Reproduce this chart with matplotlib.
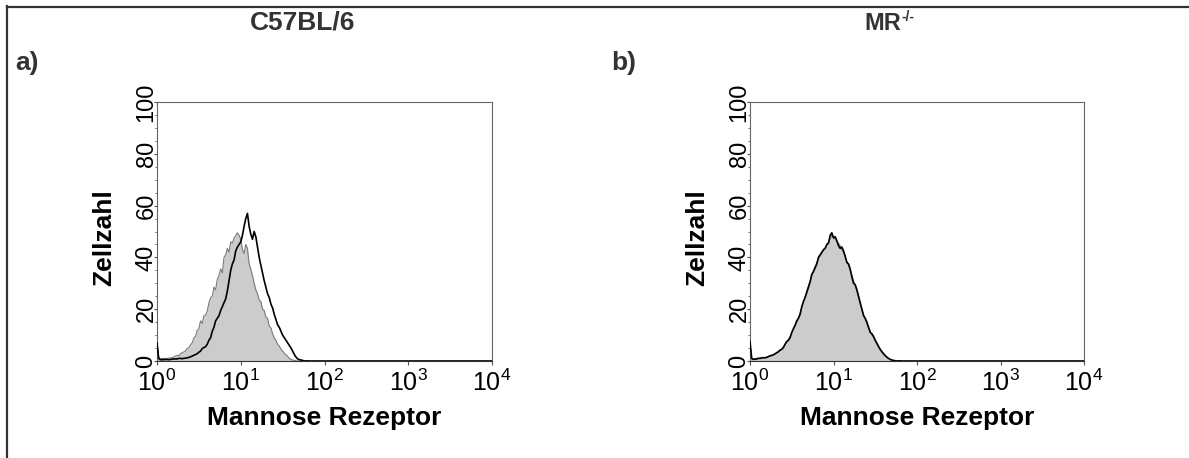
import numpy as np
import matplotlib
matplotlib.use("Agg")
import matplotlib.pyplot as plt
from matplotlib.ticker import MultipleLocator, LogLocator, NullFormatter
from matplotlib.lines import Line2D

plt.rcParams['font.family'] = ['Liberation Sans', 'DejaVu Sans']
plt.rcParams['mathtext.fontset'] = 'custom'
plt.rcParams['mathtext.rm'] = 'Liberation Sans'
plt.rcParams['mathtext.bf'] = 'Liberation Sans:bold'
plt.rcParams['mathtext.it'] = 'Liberation Sans:italic'

# ---- data ----
titles = ["C57BL/6", "MR"]
title_sups = ["", "-/-"]
panel_labels = ["a)", "b)"]
x_label = "Mannose Rezeptor"
y_label = "Zellzahl"
x_ticks = [1, 10, 100, 1000, 10000]
y_ticks = [0, 20, 40, 60, 80, 100]

# channel grid of the cytometer, in log10 fluorescence (0 .. 1.8, 91 channels)
log_channels = np.linspace(0, 1.8, 91)

gray_a = [7, 1.5, 0.8, 1.0, 1.0, 0.9, 1.0, 1.1, 1.2, 1.3,
          1.5, 1.9, 2.2, 2.0, 2.8, 3.2, 3.5, 3.9, 4.8, 5.1,
          6.2, 7.0, 9.0, 9.5, 11.8, 12.5, 15.5, 14.5, 17.5, 17.8,
          19.2, 22.5, 24.5, 25, 28.5, 27.5, 31.5, 33, 35.5, 34,
          40, 41, 43.5, 42, 46, 45.5, 47.5, 48.5, 49.5, 48.5,
          47, 43, 41.5, 45, 43.5, 37.5, 35.5, 33, 30, 27.5,
          26, 23.5, 23, 20, 19.5, 17, 16.5, 13.5, 12.8, 10.5,
          9, 8, 6.5, 5.8, 4.6, 3.8, 3.0, 2.4, 1.8, 1.0,
          0.6, 0.4, 0.2, 0.1, 0, 0, 0, 0, 0, 0, 0]
black_a = [7, 1.0, 0.5, 0.5, 0.5, 0.6, 0.6, 0.5, 0.6, 0.7,
           0.8, 0.8, 0.8, 1.0, 1.0, 0.9, 1.0, 1.1, 1.2, 1.4,
           1.6, 1.9, 2.2, 2.5, 2.8, 3.4, 3.8, 4.8, 5.2, 5.5,
           6.5, 8.0, 9.0, 11.5, 13, 15.5, 16.5, 17.5, 19.5, 21,
           22.5, 24, 27, 31, 35, 37.5, 39, 42.5, 44, 45,
           46, 48.5, 52, 55, 57, 52, 49, 47, 50, 48,
           44, 40, 37, 34, 31, 28.5, 26, 24.5, 22, 20.5,
           18, 16, 14, 13, 11.5, 10, 9, 8, 7, 6,
           5, 3.8, 2.5, 1.5, 0.8, 0.5, 0.4, 0.2, 0, 0, 0]
gray_b = [7, 1.2, 0.8, 0.9, 1.0, 1.1, 1.2, 1.1, 1.2, 1.4,
          1.5, 1.6, 1.8, 2.0, 2.2, 2.6, 3.0, 3.4, 4.0, 4.6,
          5.5, 6.2, 7.2, 8.4, 9.5, 10.8, 12, 13.5, 15, 16.8,
          18.5, 20.5, 22.5, 25, 27, 29, 31, 33, 35, 36.5,
          38, 39.5, 40.5, 41.5, 42.5, 43.5, 44.5, 46, 47, 48.5,
          48, 47, 46, 45.5, 44.5, 43, 42, 40, 38.5, 37,
          35, 33, 31, 29, 27, 24.5, 22, 20, 18, 16,
          14.5, 13, 11.5, 10, 9, 7.8, 6.5, 5.3, 4.2, 3.3,
          2.5, 1.9, 1.3, 0.9, 0.5, 0.3, 0.1, 0, 0, 0, 0]
black_b = [7.5, 1.0, 0.6, 0.7, 0.8, 1.0, 1.0, 1.2, 1.3, 1.2,
           1.4, 1.7, 2.0, 2.2, 2.4, 2.8, 3.2, 3.6, 4.2, 4.5,
           5.2, 6.5, 7.5, 8.0, 9.0, 11.0, 12.5, 13.8, 15.5, 16.5,
           18, 21, 23, 24.5, 26.5, 28.5, 30.5, 33.5, 34.5, 36,
           37.5, 40, 41, 42, 43, 43.5, 45, 45.5, 48.5, 49.5,
           47.5, 48, 46.5, 44.5, 43.5, 44, 42.5, 40.5, 38, 37.5,
           35.5, 32.5, 30, 29.5, 27.5, 25, 22.5, 20, 17.5, 16.5,
           15, 13, 11, 10.5, 9.5, 8, 6.8, 5.6, 4.5, 3.6,
           2.8, 2.1, 1.5, 1.0, 0.6, 0.4, 0.2, 0.1, 0, 0, 0]

W, H = 1189, 458
fig = plt.figure(figsize=(W / 100, H / 100), dpi=100)

# outer frame lines (left and top)
fig.add_artist(Line2D([7 / W, 7 / W], [0, 1 - 6 / H], transform=fig.transFigure,
                      color='#333333', lw=1.6))
fig.add_artist(Line2D([7 / W, 1], [1 - 7 / H, 1 - 7 / H], transform=fig.transFigure,
                      color='#333333', lw=1.6))

panels = [(157, 492, gray_a, black_a, 303, 15),
          (750, 1084, gray_b, black_b, 896, 611)]
ax_top, ax_bot = 102, 361

x = 10 ** log_channels
for i, (l, r, g, b, tx, px) in enumerate(panels):
    ax = fig.add_axes([l / W, 1 - ax_bot / H, (r - l) / W, (ax_bot - ax_top) / H])
    ax.set_xscale('log')
    ax.set_xlim(1, 10000)
    ax.set_ylim(0, 100)
    ax.fill_between(x, g, 0, color='#cccccc', lw=0, zorder=1)
    ax.plot(x, g, color='#7a7a7a', lw=0.8, zorder=2)
    ax.plot(x, b, color='black', lw=1.2, zorder=3)
    ax.plot([x[-1], 10000], [0, 0], color='black', lw=1.2, zorder=3)

    for s in ax.spines.values():
        s.set_color('#666666')
        s.set_linewidth(0.8)
    ax.spines['bottom'].set_color('#333333')

    ax.set_xticks(x_ticks)
    ax.xaxis.set_minor_locator(LogLocator(base=10, subs=np.arange(2, 10)))
    ax.xaxis.set_minor_formatter(NullFormatter())
    ax.set_yticks(y_ticks)
    ax.yaxis.set_minor_locator(MultipleLocator(5))
    ax.tick_params(axis='x', which='major', length=3, width=0.8, color='#555555',
                   labelsize=18, pad=3, direction='out')
    ax.tick_params(axis='x', which='minor', length=1.5, width=0.6, color='#555555')
    ax.tick_params(axis='y', which='major', length=2.5, width=0.8, color='#555555',
                   labelsize=17, pad=5, direction='out')
    ax.tick_params(axis='y', which='minor', length=1.5, width=0.6, color='#555555')
    for lab in ax.get_yticklabels():
        lab.set_rotation(90)
        lab.set_va('center')
        lab.set_ha('center')
        lab.set_fontsize(17)

    cx = (l + r) / 2
    fig.text(cx / W, 1 - 418 / H, x_label, ha='center', va='center',
             fontsize=19, fontweight='bold')
    fig.text((l - 53) / W, 1 - 238 / H, y_label, ha='center', va='center',
             rotation=90, fontsize=19, fontweight='bold')
    if title_sups[i]:
        fig.text((tx + 5) / W, 1 - 23 / H, titles[i], ha='right', va='center',
                 fontsize=17, fontweight='bold', color='#333333')
        fig.text((tx + 5) / W, 1 - 17 / H, title_sups[i], ha='left', va='center',
                 fontsize=10, fontweight='bold', color='#333333')
    else:
        fig.text(tx / W, 1 - 23 / H, titles[i], ha='center', va='center',
                 fontsize=19, fontweight='bold', color='#333333')
    fig.text(px / W, 1 - 63 / H, panel_labels[i], ha='left', va='center',
             fontsize=19, fontweight='bold', color='#333333')

fig.savefig('out.png', dpi=100)
